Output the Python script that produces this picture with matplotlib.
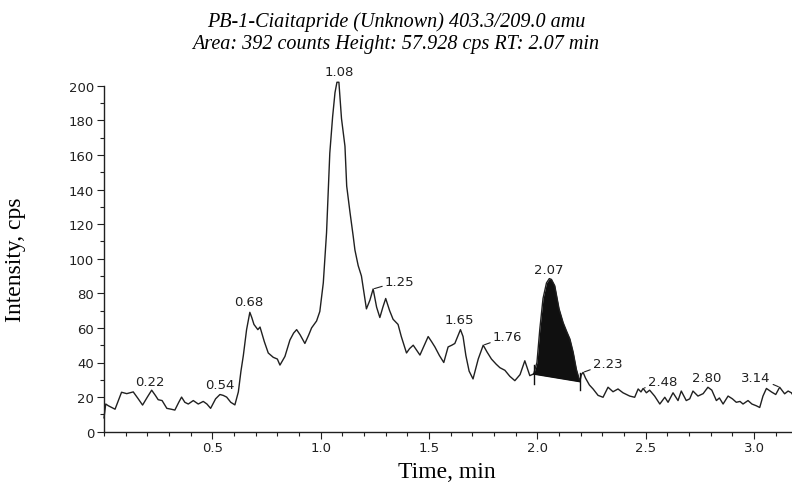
import matplotlib
matplotlib.use('Agg')
import matplotlib.pyplot as plt
import numpy as np
from matplotlib.ticker import MultipleLocator

# chromatogram trace (time in min, intensity in cps)
time_min = [0.0, 0.008, 0.02, 0.035, 0.051, 0.081, 0.105, 0.12, 0.135, 0.158,
            0.178, 0.2, 0.22, 0.237, 0.25, 0.268, 0.29, 0.31, 0.327, 0.345,
            0.358, 0.373, 0.389, 0.412, 0.435, 0.458, 0.475, 0.492, 0.515, 0.535,
            0.55, 0.566, 0.585, 0.604, 0.62, 0.632, 0.643, 0.658, 0.673, 0.682,
            0.692, 0.71, 0.72, 0.74, 0.758, 0.781, 0.8, 0.812, 0.835, 0.858,
            0.875, 0.889, 0.905, 0.927, 0.945, 0.958, 0.981, 0.996, 1.012, 1.027,
            1.042, 1.055, 1.066, 1.075, 1.084, 1.096, 1.112, 1.12, 1.135, 1.15,
            1.158, 1.173, 1.188, 1.211, 1.227, 1.242, 1.258, 1.273, 1.287, 1.30,
            1.318, 1.334, 1.357, 1.372, 1.396, 1.41, 1.427, 1.443, 1.458, 1.478,
            1.496, 1.512, 1.527, 1.548, 1.568, 1.588, 1.605, 1.619, 1.645, 1.657,
            1.67, 1.685, 1.703, 1.727, 1.75, 1.768, 1.788, 1.81, 1.827, 1.85,
            1.873, 1.896, 1.92, 1.942, 1.965, 1.983, 1.998, 2.011, 2.026, 2.042,
            2.055, 2.065, 2.08, 2.1, 2.119, 2.135, 2.15, 2.165, 2.18, 2.196,
            2.203, 2.211, 2.222, 2.24, 2.257, 2.28, 2.303, 2.326, 2.349, 2.372,
            2.395, 2.426, 2.449, 2.465, 2.478, 2.488, 2.503, 2.518, 2.541, 2.565,
            2.588, 2.603, 2.626, 2.649, 2.664, 2.687, 2.703, 2.718, 2.741, 2.765,
            2.787, 2.805, 2.826, 2.84, 2.857, 2.88, 2.9, 2.918, 2.935, 2.949,
            2.972, 2.99, 3.01, 3.026, 3.041, 3.057, 3.08, 3.1, 3.118, 3.141,
            3.157, 3.172, 3.18]
intensity = [8, 16, 15, 14, 13, 22.8, 22, 22.5, 23, 19,
             15.4, 20, 24, 21, 18.5, 18, 13.5, 13, 12.5, 17,
             20, 17, 16, 18, 16, 17.5, 16, 13.5, 19, 21.5,
             21, 20, 17, 15.5, 23, 35, 44, 59, 69, 66,
             62, 59, 60.5, 52, 45.5, 43, 42, 38.5, 43.5, 53,
             57, 59, 56, 51, 56, 60, 64, 69.5, 86, 115,
             161, 182, 196, 202, 202, 181, 165, 142, 127, 113,
             105, 96, 90, 71, 76, 82.5, 72, 66, 72, 77,
             70, 65, 62, 55, 45.5, 48, 50, 47, 44.3, 50,
             55, 52, 49, 44, 40, 49, 50, 51, 59, 55,
             44, 35, 30.5, 42, 50, 46, 42, 39, 37, 35.5,
             32, 29.5, 33, 41, 32.4, 33.4, 40, 59, 77, 86,
             88.5, 88, 84.4, 71, 63, 58, 53.6, 46, 36, 29,
             33, 34.3, 31, 27, 24.7, 21, 19.9, 25.7, 23.1, 24.7,
             22.5, 20.6, 19.9, 24.7, 23, 25, 22.5, 24, 20.6, 16,
             19.9, 17, 22.5, 18, 23.5, 18, 19, 23.5, 20.6, 22,
             25.7, 24, 18, 19.5, 16, 20.6, 19, 17, 17.5, 16,
             18, 16, 15, 14, 20.6, 25, 23, 21.5, 25.7, 21.9,
             23.5, 22.5, 21]

# integrated peak (RT 2.07): baseline start/end
peak_start = (1.983, 33.4)
peak_end = (2.196, 29.0)

# peak labels: text, peak position, text position
peak_labels = ['0.22', '0.54', '0.68', '1.08', '1.25', '1.65', '1.76',
               '2.07', '2.23', '2.48', '2.80', '3.14']
label_peak_t = [0.22, 0.54, 0.68, 1.08, 1.242, 1.645, 1.75,
                2.065, 2.211, 2.488, 2.787, 3.118]
label_peak_i = [24, 21.5, 69, 202, 82.5, 59, 50,
                88.5, 34.3, 25, 25.7, 25.7]
label_text_t = [0.212, 0.535, 0.67, 1.085, 1.365, 1.642, 1.863,
                2.053, 2.325, 2.578, 2.78, 3.007]
label_text_i = [29, 27, 75, 208, 87, 64.7, 55,
                94, 39.5, 29, 31.4, 31.6]
label_leader = [False, False, False, False, True, False, True,
                False, True, True, False, True]

plt.rcParams['font.family'] = ['DejaVu Sans']

fig = plt.figure(figsize=(7.92, 4.89), dpi=100)
ax = fig.add_axes([104 / 792, (489 - 432.7) / 489, 688 / 792, 346 / 489])

ax.plot(time_min, intensity, color='#202020', lw=1.0, clip_on=False)

# shaded integrated area between trace and baseline
t_arr = np.array(time_min)
i_arr = np.array(intensity)
mask = (t_arr >= peak_start[0]) & (t_arr <= peak_end[0])
base = np.interp(t_arr[mask], [peak_start[0], peak_end[0]], [peak_start[1], peak_end[1]])
ax.fill_between(t_arr[mask], base, i_arr[mask], color='#101010', lw=0)
ax.plot([peak_start[0], peak_end[0]], [peak_start[1], peak_end[1]], color='#101010', lw=1.2)
ax.plot([peak_start[0], peak_start[0]], [peak_start[1] - 6, peak_start[1] + 5], color='#101010', lw=1)
ax.plot([peak_end[0], peak_end[0]], [peak_end[1] - 5, peak_end[1] + 5], color='#101010', lw=1)

for lab, pt, pi, tt, ti, lead in zip(peak_labels, label_peak_t, label_peak_i,
                                     label_text_t, label_text_i, label_leader):
    if lead:
        ax.annotate(lab, xy=(pt, pi), xytext=(tt, ti), fontsize=9.5, color='#202020',
                    ha='center', va='center',
                    arrowprops=dict(arrowstyle='-', color='#202020', lw=0.8,
                                    shrinkA=0, shrinkB=1))
    else:
        ax.text(tt, ti, lab, fontsize=9.5, color='#202020', ha='center', va='center')

ax.set_xlim(0, 3.175)
ax.set_ylim(0, 200)
ax.xaxis.set_minor_locator(MultipleLocator(0.1))
ax.yaxis.set_major_locator(MultipleLocator(20))
ax.yaxis.set_minor_locator(MultipleLocator(10))
ax.set_xticks([0.5, 1.0, 1.5, 2.0, 2.5, 3.0])
ax.set_xticklabels(['0.5', '1.0', '1.5', '2.0', '2.5', '3.0'])
ax.tick_params(axis='both', which='major', labelsize=9.5, length=5, width=0.8,
               colors='#202020', direction='out', pad=2)
ax.tick_params(axis='both', which='minor', length=3, width=0.8, colors='#202020')
for s in ['top', 'right']:
    ax.spines[s].set_visible(False)
for s in ['left', 'bottom']:
    ax.spines[s].set_color('#202020')
    ax.spines[s].set_linewidth(1.0)

ax.set_xlabel('Time, min', family='Liberation Serif', fontsize=17)
ax.set_ylabel('Intensity, cps', family='Liberation Serif', fontsize=17)
ax.xaxis.set_label_coords(0.498, -0.085)
ax.yaxis.set_label_coords(-0.128, 0.5)
ax.yaxis.label.set_va('center')

fig.text(0.5, 1 - 22 / 489, 'PB-1-Ciaitapride (Unknown) 403.3/209.0 amu',
         family='Liberation Serif', style='italic', fontsize=14.5, ha='center', va='center')
fig.text(0.5, 1 - 45 / 489, 'Area: 392 counts Height: 57.928 cps RT: 2.07 min',
         family='Liberation Serif', style='italic', fontsize=14.5, ha='center', va='center')

fig.savefig('out.png', dpi=100)
